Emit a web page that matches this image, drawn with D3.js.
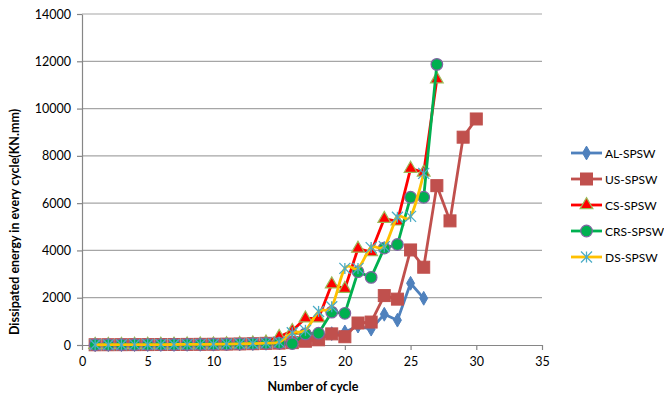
<!DOCTYPE html>
<html>
<head>
<meta charset="utf-8">
<script src="https://cdn.jsdelivr.net/npm/d3@7"></script>
<style>
  html, body { margin: 0; padding: 0; background: #fff; }
  svg { display: block; font-family: Lato, "Liberation Sans", sans-serif; }
</style>
</head>
<body>
<svg id="chart" width="664" height="397"></svg>
<script>
// Dissipated energy per cycle for each shear-wall specimen
const alSpsw = [10, 12, 14, 16, 18, 20, 22, 25, 28, 32, 38, 45, 55, 70, 110, 150, 250, 350, 480, 550, 800, 670, 1300, 1050, 2610, 1975];
const usSpsw = [10, 12, 14, 16, 18, 20, 22, 25, 28, 32, 38, 45, 55, 70, 80, 100, 160, 220, 470, 350, 930, 970, 2090, 1940, 4020, 3290, 6740, 5250, 8790, 9560];
const csSpsw = [10, 12, 14, 16, 18, 20, 22, 25, 28, 32, 40, 50, 70, 110, 350, 600, 1130, 1130, 2570, 2380, 4080, 3930, 5340, 5230, 7460, 7300, 11240];
const crsSpsw = [10, 12, 14, 16, 18, 20, 22, 25, 28, 32, 38, 45, 55, 70, 80, 60, 470, 500, 1390, 1340, 3100, 2860, 4100, 4250, 6250, 6250, 11870];
const dsSpsw = [10, 12, 14, 16, 18, 20, 22, 25, 28, 32, 40, 50, 60, 80, 120, 520, 620, 1420, 1620, 3240, 3240, 4120, 4160, 5400, 5440, 7260];

const seriesNames = ["AL-SPSW", "US-SPSW", "CS-SPSW", "CRS-SPSW", "DS-SPSW"];
const xTicks = [0, 5, 10, 15, 20, 25, 30, 35];
const yTicks = [0, 2000, 4000, 6000, 8000, 10000, 12000, 14000];

const series = [
  { name: seriesNames[0], values: alSpsw, line: "#4F81BD", marker: "diamond", fill: "#4F81BD", stroke: "#4F81BD", smooth: false },
  { name: seriesNames[1], values: usSpsw, line: "#C0504D", marker: "square", fill: "#C0504D", stroke: "#C0504D", smooth: false },
  { name: seriesNames[2], values: csSpsw, line: "#FF0000", marker: "triangle", fill: "#FF0000", stroke: "#9BBB59", smooth: false },
  { name: seriesNames[3], values: crsSpsw, line: "#00B050", marker: "circle", fill: "#00B050", stroke: "#8064A2", smooth: false },
  { name: seriesNames[4], values: dsSpsw, line: "#FFC000", marker: "star", fill: "none", stroke: "#4BACC6", smooth: true }
];

const svg = d3.select("#chart");
const plot = { left: 82, right: 542, top: 14, bottom: 345 };

const x = d3.scaleLinear().domain([0, 35]).range([plot.left, plot.right]);
const y = d3.scaleLinear().domain([0, 14000]).range([plot.bottom, plot.top]);

// Horizontal gridlines
svg.append("g")
  .selectAll("line")
  .data(yTicks.filter(d => d > 0))
  .join("line")
  .attr("x1", plot.left).attr("x2", plot.right)
  .attr("y1", d => y(d)).attr("y2", d => y(d))
  .attr("stroke", "#A6A6A6").attr("stroke-width", 1.2);

// Axes
const xAxis = svg.append("g")
  .attr("transform", `translate(0,${plot.bottom})`)
  .call(d3.axisBottom(x).tickValues(xTicks).tickFormat(d3.format("d"))
    .tickSize(5).tickPadding(4).tickSizeOuter(0));
const yAxis = svg.append("g")
  .attr("transform", `translate(${plot.left},0)`)
  .call(d3.axisLeft(y).tickValues(yTicks).tickFormat(d3.format("d"))
    .tickSize(5).tickPadding(6).tickSizeOuter(0));

[xAxis, yAxis].forEach(g => {
  g.select(".domain").attr("stroke", "#868686").attr("stroke-width", 1.2);
  g.selectAll(".tick line").attr("stroke", "#868686").attr("stroke-width", 1.2);
  g.selectAll(".tick text").attr("fill", "#000").attr("font-size", 12.5)
    .attr("font-family", "Lato, 'Liberation Sans', sans-serif");
});
xAxis.selectAll(".tick text").attr("dy", "0.95em");

// Axis titles
svg.append("text")
  .attr("x", (plot.left + plot.right) / 2 + 1)
  .attr("y", 391)
  .attr("text-anchor", "middle")
  .attr("font-weight", "bold").attr("font-size", 12.5)
  .text("Number of cycle");

svg.append("text")
  .attr("transform", "translate(19,222) rotate(-90)")
  .attr("text-anchor", "middle")
  .attr("font-weight", "bold").attr("font-size", 12.5)
  .text("Dissipated energy in every cycle(KN.mm)");

// Marker drawing helper
function drawMarker(g, type, cx, cy, fill, stroke) {
  if (type === "diamond") {
    g.append("path").attr("d", d3.symbol(d3.symbolDiamond, 55)())
      .attr("transform", `translate(${cx},${cy})`).attr("fill", fill).attr("stroke", stroke).attr("stroke-width", 1);
  } else if (type === "square") {
    g.append("rect").attr("x", cx - 6).attr("y", cy - 6).attr("width", 12).attr("height", 12)
      .attr("fill", fill).attr("stroke", stroke).attr("stroke-width", 1);
  } else if (type === "triangle") {
    g.append("path").attr("d", d3.symbol(d3.symbolTriangle, 70)())
      .attr("transform", `translate(${cx},${cy})`).attr("fill", fill).attr("stroke", stroke).attr("stroke-width", 1.2);
  } else if (type === "circle") {
    g.append("circle").attr("cx", cx).attr("cy", cy).attr("r", 5.8)
      .attr("fill", fill).attr("stroke", stroke).attr("stroke-width", 1.2);
  } else if (type === "star") {
    const s = 5.5;
    const sg = g.append("g").attr("transform", `translate(${cx},${cy})`)
      .attr("stroke", stroke).attr("stroke-width", 1.3);
    sg.append("line").attr("x1", -s).attr("y1", -s).attr("x2", s).attr("y2", s);
    sg.append("line").attr("x1", -s).attr("y1", s).attr("x2", s).attr("y2", -s);
    sg.append("line").attr("x1", 0).attr("y1", -s).attr("x2", 0).attr("y2", s);
  }
}

// Series lines and markers
series.forEach(s => {
  const pts = s.values.map((v, i) => [i + 1, v]);
  const lineGen = d3.line()
    .x(d => x(d[0])).y(d => y(d[1]))
    .curve(s.smooth ? d3.curveCatmullRom.alpha(0) : d3.curveLinear);
  const g = svg.append("g");
  g.append("path").datum(pts).attr("d", lineGen)
    .attr("fill", "none").attr("stroke", s.line).attr("stroke-width", 2.8)
    .attr("stroke-linejoin", "round");
  pts.forEach(p => drawMarker(g, s.marker, x(p[0]), y(p[1]), s.fill, s.stroke));
});

// Legend
const legendY = [153, 179, 205, 231, 257];
series.forEach((s, i) => {
  const g = svg.append("g");
  const ly = legendY[i];
  g.append("line").attr("x1", 571).attr("x2", 602).attr("y1", ly).attr("y2", ly)
    .attr("stroke", s.line).attr("stroke-width", 2.8);
  drawMarker(g, s.marker, 586.5, ly, s.fill, s.stroke);
  g.append("text").attr("x", 605).attr("y", ly + 4.5)
    .attr("font-size", 12).text(s.name);
});
</script>
</body>
</html>
